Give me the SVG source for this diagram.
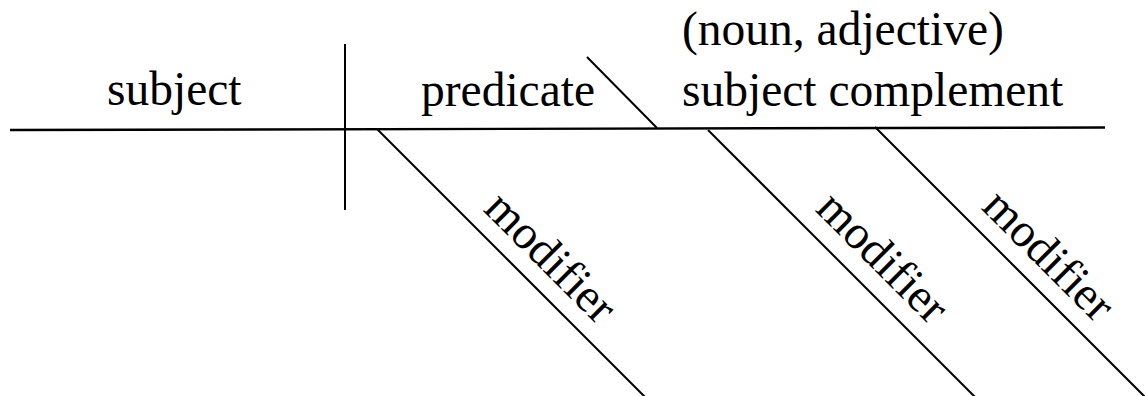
<svg xmlns="http://www.w3.org/2000/svg" width="1145" height="396" viewBox="0 0 1145 396">
<style>
.ln{stroke:#000;stroke-width:2;fill:none;stroke-linecap:butt}
.t{font-family:"Liberation Serif","Times New Roman",serif;font-size:47.5px;fill:#000}
</style>
<rect width="1145" height="396" fill="#fff"/>
<g id="connectors">
<line class="ln" x1="10" y1="130" x2="1105" y2="127.5" style="stroke-width:2.4"/>
<line class="ln" x1="345" y1="44" x2="345" y2="210"/>
<line class="ln" x1="587" y1="57" x2="657" y2="128"/>
<line class="ln" x1="377" y1="129" x2="645" y2="397"/>
<line class="ln" x1="708" y1="130" x2="975" y2="397"/>
<line class="ln" x1="875" y1="127" x2="1145" y2="397"/>
</g>
<g id="subject"><text class="t" x="107" y="105">subject</text></g>
<g id="predicate"><text class="t" x="421" y="106">predicate</text></g>
<g id="complement">
<text class="t" x="682" y="45">(noun, adjective)</text>
<text class="t" x="682" y="106">subject complement</text>
</g>
<g id="modifier1"><text class="t" text-anchor="middle" transform="translate(540,268) rotate(45)">modifier</text></g>
<g id="modifier2"><text class="t" text-anchor="middle" transform="translate(872,268) rotate(45)">modifier</text></g>
<g id="modifier3"><text class="t" text-anchor="middle" transform="translate(1038,266) rotate(45)">modifier</text></g>
</svg>
